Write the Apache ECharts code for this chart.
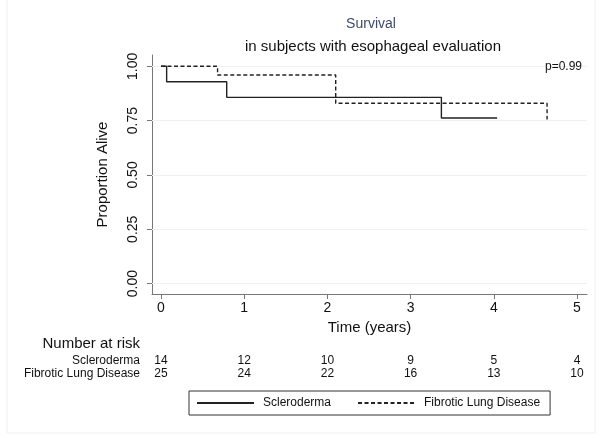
<!DOCTYPE html>
<html>
<head>
<meta charset="utf-8">
<script src="https://cdn.jsdelivr.net/npm/echarts@6/dist/echarts.min.js"></script>
<style>
html,body{margin:0;padding:0;background:#fff;}
#chart{width:602px;height:438px;}
</style>
</head>
<body>
<div id="chart"></div>
<script>
// ---- data ----
const seriesNames = ['Scleroderma', 'Fibrotic Lung Disease'];
const sclerodermaCurve = [[0, 1.0], [0.068, 0.929], [0.79, 0.857], [3.37, 0.762], [4.04, 0.762]];
const fibroticCurve = [[0, 1.0], [0.68, 0.96], [2.10, 0.83], [4.64, 0.755]];
const xTicks = [0, 1, 2, 3, 4, 5];
const yTicks = [0, 0.25, 0.5, 0.75, 1.0];
const riskTimes = [0, 1, 2, 3, 4, 5];
const riskScleroderma = [14, 12, 10, 9, 5, 4];
const riskFibrotic = [25, 24, 22, 16, 13, 10];
const pValueText = 'p=0.99';

const FONT = '"Liberation Sans", Arial, Helvetica, sans-serif';
const chart = echarts.init(document.getElementById('chart'), null, {renderer: 'canvas'});

const option = {
  animation: false,
  backgroundColor: '#ffffff',
  textStyle: {fontFamily: FONT},
  title: [
    {text: 'Survival', left: 366, top: 12, textAlign: 'center',
     textStyle: {fontFamily: FONT, fontSize: 14, fontWeight: 'normal', color: '#3c4a6a'}},
    {text: 'in subjects with esophageal evaluation', left: 368, top: 34, textAlign: 'center',
     textStyle: {fontFamily: FONT, fontSize: 15, fontWeight: 'normal', color: '#111'}}
  ],
  grid: {left: 152, top: 55, right: 15, bottom: 144, containLabel: false},
  xAxis: {
    type: 'value', min: -0.108, max: 5.12,
    name: 'Time (years)', nameLocation: 'middle', nameGap: 26,
    nameTextStyle: {fontFamily: FONT, fontSize: 15, color: '#111'},
    axisLine: {show: true, onZero: false, lineStyle: {color: '#777', width: 1}},
    axisTick: {show: true, length: 5, lineStyle: {color: '#777'}, customValues: xTicks},
    axisLabel: {fontFamily: FONT, fontSize: 14, color: '#111', margin: 7, customValues: xTicks,
                formatter: v => String(v)},
    splitLine: {show: false}
  },
  yAxis: {
    type: 'value', min: -0.048, max: 1.052,
    name: 'Proportion Alive', nameLocation: 'middle', nameGap: 42,
    nameTextStyle: {fontFamily: FONT, fontSize: 15, color: '#111'},
    axisLine: {show: true, onZero: false, lineStyle: {color: '#777', width: 1}},
    axisTick: {show: true, length: 5, lineStyle: {color: '#777'}, customValues: yTicks},
    axisLabel: {fontFamily: FONT, fontSize: 14, color: '#111', rotate: 90, margin: 12,
                customValues: yTicks, formatter: v => v.toFixed(2)},
    splitLine: {show: false}
  },
  legend: {
    left: 189, top: 391,
    orient: 'horizontal',
    data: seriesNames,
    itemWidth: 57, itemHeight: 14, itemGap: 26,
    padding: [6, 10, 6, 7],
    borderColor: '#333', borderWidth: 1, borderRadius: 0,
    itemStyle: {opacity: 0},
    textStyle: {fontFamily: FONT, fontSize: 12, color: '#111', padding: [0, 0, 0, 4]}
  },
  series: [
    {
      name: seriesNames[0], type: 'line', step: 'end', data: sclerodermaCurve,
      symbol: 'none', showSymbol: false,
      lineStyle: {color: '#222', width: 1.4, type: 'solid'},
      itemStyle: {color: '#222'},
      z: 3,
      markLine: {
        silent: true, symbol: 'none', label: {show: false},
        lineStyle: {color: '#eef1f1', type: 'solid', width: 1},
        data: yTicks.map(v => ({yAxis: v})),
        z: 1
      }
    },
    {
      name: seriesNames[1], type: 'line', step: 'end', data: fibroticCurve,
      symbol: 'none', showSymbol: false,
      lineStyle: {color: '#222', width: 1.4, type: [4, 2.5]},
      itemStyle: {color: '#222'},
      z: 3
    }
  ]
};
chart.setOption(option);

// risk table and annotations
const graphics = [];
graphics.push({
  type: 'rect', silent: true, z: -1,
  shape: {x: 7, y: -2, width: 588, height: 435},
  style: {fill: null, stroke: '#eef2f2', lineWidth: 1}
});
graphics.push({
  type: 'text', x: 582, y: 67, silent: true, z: 100,
  style: {text: pValueText, fontFamily: FONT, fontSize: 12, fill: '#111', align: 'right', verticalAlign: 'middle'}
});
graphics.push({
  type: 'text', x: 140, y: 344, silent: true,
  style: {text: 'Number at risk', fontFamily: FONT, fontSize: 15, fill: '#111', align: 'right', verticalAlign: 'middle'}
});
const rows = [[seriesNames[0], riskScleroderma, 361], [seriesNames[1], riskFibrotic, 373.5]];
rows.forEach(([label, vals, yy]) => {
  graphics.push({
    type: 'text', x: 140, y: yy, silent: true,
    style: {text: label, fontFamily: FONT, fontSize: 12, fill: '#111', align: 'right', verticalAlign: 'middle'}
  });
  vals.forEach((v, i) => {
    const px = chart.convertToPixel({xAxisIndex: 0}, riskTimes[i]);
    graphics.push({
      type: 'text', x: px, y: yy, silent: true,
      style: {text: String(v), fontFamily: FONT, fontSize: 12, fill: '#111', align: 'center', verticalAlign: 'middle'}
    });
  });
});
chart.setOption({graphic: graphics});
</script>
</body>
</html>
